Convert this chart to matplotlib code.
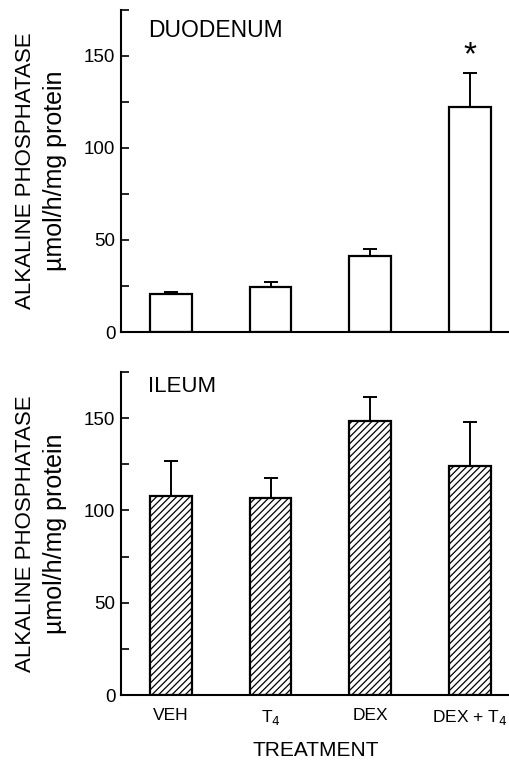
import numpy as np
import matplotlib.pyplot as plt
from matplotlib.ticker import MultipleLocator

plt.rcParams['font.family'] = ['Liberation Sans', 'DejaVu Sans']
plt.rcParams['hatch.linewidth'] = 0.9

treatments = ['VEH', 'T$_4$', 'DEX', 'DEX + T$_4$']
duodenum = [20.6, 24.6, 41.2, 122.3]
duodenum_err = [1.3, 2.4, 3.7, 18.6]
ileum = [107.9, 107.0, 148.2, 124.0]
ileum_err = [18.6, 10.6, 13.1, 23.8]

fig = plt.figure(figsize=(5.1, 7.65), dpi=100)
ax1 = fig.add_axes([0.237, 0.566, 0.763, 0.421])
ax2 = fig.add_axes([0.237, 0.091, 0.763, 0.423])

x = np.arange(len(treatments))


def style(ax):
    ax.set_xlim(-0.5, 3.4)
    ax.set_ylim(0, 175)
    ax.spines['top'].set_visible(False)
    ax.spines['right'].set_visible(False)
    ax.spines['left'].set_linewidth(1.5)
    ax.spines['bottom'].set_linewidth(1.5)
    ax.yaxis.set_major_locator(MultipleLocator(50))
    ax.yaxis.set_minor_locator(MultipleLocator(25))
    ax.tick_params(axis='y', direction='in', length=6, width=1.2, labelsize=13.5, pad=4)
    ax.tick_params(axis='y', which='minor', direction='in', length=6, width=1.2)
    # two-line y label, drawn as separate texts so each line has its own size
    ax.text(-0.245, 0.5, 'ALKALINE PHOSPHATASE', transform=ax.transAxes, rotation=90,
            ha='center', va='center', fontsize=16)
    ax.text(-0.168, 0.5, 'µmol/h/mg protein', transform=ax.transAxes, rotation=90,
            ha='center', va='center', fontsize=18)


ax1.bar(x, duodenum, width=0.42, color='white', edgecolor='black', linewidth=1.6)
ax1.errorbar(x, duodenum, yerr=[np.zeros(4), duodenum_err], fmt='none', ecolor='black',
             elinewidth=1.4, capsize=5, capthick=1.4)
style(ax1)
ax1.set_xticks([])
ax1.text(0.07, 0.935, 'DUODENUM', transform=ax1.transAxes, fontsize=16.5, va='center')
ax1.text(x[3], duodenum[3] + duodenum_err[3] + 9, '*', fontsize=24, ha='center', va='center')

ax2.bar(x, ileum, width=0.42, color='white', edgecolor='black', linewidth=1.6, hatch='/////')
ax2.errorbar(x, ileum, yerr=[np.zeros(4), ileum_err], fmt='none', ecolor='black',
             elinewidth=1.4, capsize=5, capthick=1.4)
style(ax2)
ax2.set_xticks(x)
ax2.set_xticklabels(treatments, fontsize=12.5)
ax2.tick_params(axis='x', length=0, pad=9)
ax2.text(0.07, 0.955, 'ILEUM', transform=ax2.transAxes, fontsize=16, va='center')
ax2.set_xlabel('TREATMENT', fontsize=15, labelpad=10)

fig.savefig('out.png', dpi=100)
